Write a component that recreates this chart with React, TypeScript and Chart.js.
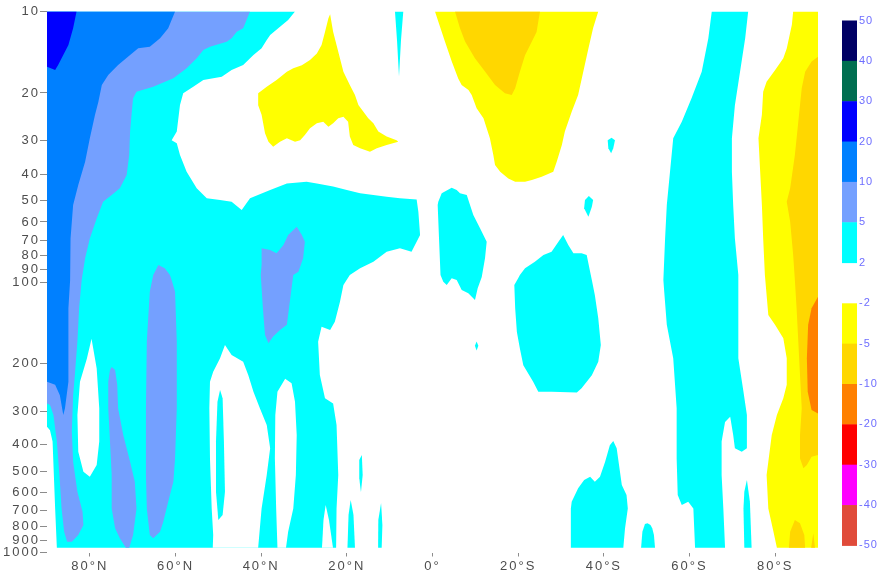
import React, { useEffect, useRef } from 'react';
import { Chart, registerables } from 'chart.js';

Chart.register(...registerables);

// [latitude (north positive), pressure hPa]
type Pt = [number, number];

// contour intervals of the field
const posLevels = [2, 5, 10, 20, 30, 40, 50];
const posColors = ['#00ffff', '#74a0ff', '#0080ff', '#0000ff', '#006e50', '#000064'];
const negLevels = [-2, -5, -10, -20, -30, -40, -50];
const negColors = ['#ffff00', '#ffd700', '#ff8000', '#ff0000', '#ff00ff', '#e04b3a'];

const yTicks = [10, 20, 30, 40, 50, 60, 70, 80, 90, 100, 200, 300, 400, 500, 600, 700, 800, 900, 1000];
const xTicks = [80, 60, 40, 20, 0, -20, -40, -60, -80];
const xTickLabels = ['80°N', '60°N', '40°N', '20°N', '0°', '20°S', '40°S', '60°S', '80°S'];

// ---- contour regions (boundaries) ----
const cyanNH: Pt[] = [[90,10],[32.1,10],[33.7,10.75],[35.6,11.38],[37.9,12.21],[38.7,12.74],[39.9,13.68],[41.8,14.48],[44.2,15.77],[46.9,16.45],[49.2,17.42],[53.5,17.92],[55.85,18.97],[58.2,20.06],[58.95,22.17],[59.7,27.8],[60.9,29.9],[59.7,30.7],[58.95,33.9],[57.4,39.1],[55.05,45.0],[52.7,49.05],[49.6,49.8],[46.9,50.5],[44.55,54.2],[42.6,49.05],[37.9,45.7],[34.0,43.2],[29.4,42.6],[27.0,43.2],[23.2,44.4],[20.0,45.7],[16.9,47.0],[13.8,47.7],[10.7,48.4],[7.6,49.05],[3.7,49.5],[3.3,55.0],[2.9,67.0],[3.7,71.0],[4.9,77.3],[7.6,75.1],[10.7,77.3],[13.8,84.1],[16.9,89.0],[19.3,94.2],[20.8,102.6],[21.6,118.3],[22.8,140.3],[23.9,150.5],[25.9,146.3],[26.7,166.3],[26.3,220.8],[25.1,269],[23.2,281],[22.4,338],[22.0,517],[22.4,687],[22.5,960],[87.7,960],[88.1,687],[88.4,517],[88.7,389],[89.3,353],[90,343]];
const whiteNotch: Pt[] = [[25.8,960],[25.45,759],[24.94,668],[24.17,759],[23.23,960]];
const white80N: Pt[] = [[79.6,162],[78.4,209],[77.8,293],[77.8,389],[78.4,475],[80.0,525],[81.5,503],[82.7,424],[82.9,310],[82.3,234],[80.7,192]];
const white50N: Pt[] = [[48.45,171],[49.6,191.5],[51.2,214.6],[51.95,233.7],[52.1,293],[51.95,449],[51.55,687],[51.2,862],[51.3,960],[40.7,960],[39.9,687],[38.7,517],[37.9,412],[38.7,338],[40.3,293],[41.8,254.5],[43.0,221],[44.2,197],[46.9,186]];
const white35N: Pt[] = [[34.4,228],[32.9,237],[32.1,277],[31.7,368],[31.9,517],[32.5,687],[33.7,838],[34.2,960],[36.2,960],[36.5,687],[36.8,449],[36.7,310],[36.2,254.5]];
const cyan50N: Pt[] = [[49.6,251],[49.0,269],[48.7,389],[48.45,596],[49.0,727],[50.0,759],[50.55,596],[50.55,389],[50.2,277]];
const cyanTop8N: Pt[] = [[8.76,10],[6.82,10],[7.35,12.74],[7.82,17.4],[8.29,12.74]];
const cyan19N: Pt[] = [[19.85,960],[19.6,727],[19.1,640],[18.45,727],[18.1,960]];
const cyan17N: Pt[] = [[17.1,455],[16.5,436],[16.3,517],[16.7,598],[17.1,531]];
const cyan12N: Pt[] = [[12.7,960],[12.65,759],[12.0,656],[11.7,791],[11.86,960]];
const cyanEq: Pt[] = [[-1.35,50.5],[-2.15,47.0],[-4.48,44.8],[-5.65,45.7],[-6.42,47.0],[-8.0,47.7],[-8.76,51.9],[-9.53,56.5],[-11.1,63.3],[-12.65,71.0],[-12.26,81.7],[-11.5,95.8],[-10.55,105.5],[-9.92,116.6],[-8.36,110.1],[-6.82,107.1],[-5.65,98.3],[-4.48,96.9],[-3.32,102.6],[-2.52,99.75],[-1.87,94.2],[-1.52,69.0],[-1.21,51.9]];
const cyanDot: Pt[] = [[-10.3,166],[-10.7,172],[-10.3,179],[-9.9,172]];
const cyan30S: Pt[] = [[-21.6,89.0],[-23.9,84.1],[-25.9,79.5],[-27.8,77.3],[-29.4,71.0],[-30.5,67.05],[-31.7,73.0],[-32.9,78.3],[-34.8,78.3],[-36.0,79.5],[-36.8,91.6],[-37.2,98.3],[-37.9,111.7],[-38.7,136.2],[-39.3,171],[-38.7,197],[-37.2,221],[-34.8,247],[-33.7,256],[-27.8,254.5],[-24.7,254.5],[-23.5,234],[-21.2,203],[-20.4,176],[-19.7,153],[-19.3,125],[-19.1,102.6],[-20.0,96.9],[-20.4,94.2]];
const cyan42S: Pt[] = [[-40.9,29.9],[-41.8,29.3],[-42.6,29.9],[-42.2,32.0],[-41.7,33.4],[-41.05,32.0]];
const cyan36S: Pt[] = [[-35.6,49.8],[-36.5,48.1],[-37.5,49.8],[-37.2,52.7],[-36.4,57.4],[-35.4,53.4]];
const cyan38Slow: Pt[] = [[-42.2,387],[-43.0,412],[-44.2,563],[-45.3,613],[-45.6,687],[-44.95,814],[-44.55,960],[-32.3,960],[-32.3,687],[-32.5,649],[-34.0,579],[-35.4,540],[-36.8,525],[-37.9,547],[-39.1,525],[-40.3,462],[-41.4,401]];
const cyan50Slow: Pt[] = [[-48.7,960],[-49.0,838],[-49.6,785],[-50.2,780],[-50.9,791],[-51.3,814],[-51.7,862],[-51.95,960]];
const cyan65S: Pt[] = [[-65.2,10],[-64.4,12.56],[-62.85,16.7],[-60.5,20.9],[-58.2,25.55],[-56.2,29.4],[-55.45,39.1],[-54.7,51.9],[-54.3,69.0],[-53.9,98.3],[-54.1,108.6],[-54.7,144],[-55.45,166],[-56.2,191.5],[-57.0,293],[-57.0,449],[-57.25,613],[-58.2,668],[-59.7,649],[-60.9,687],[-61.3,960],[-68.3,960],[-67.9,687],[-67.5,517],[-67.5,389],[-68.3,329],[-69.5,315],[-70.2,368],[-70.6,412],[-72.2,424],[-73.4,412],[-73.4,310],[-72.6,254.5],[-71.4,191.5],[-71.4,125],[-71.4,94.2],[-70.6,69.0],[-70.2,51.9],[-69.9,39.1],[-69.9,29.4],[-70.6,22.2],[-71.8,16.7],[-73.0,12.56],[-73.7,10]];
const cyan74S: Pt[] = [[-73.4,540],[-74.1,649],[-74.5,960],[-72.8,960],[-72.6,687],[-72.8,596]];
const lightBlueNH: Pt[] = [[90,10],[42.6,10],[44.2,11.54],[45.7,11.88],[46.9,12.56],[48.05,12.93],[51.95,13.49],[53.5,13.88],[55.05,14.89],[57.4,16.22],[60.5,17.66],[65.2,18.97],[69.1,19.79],[69.9,20.94],[70.2,23.47],[70.6,27.8],[70.8,33.9],[71.4,40.2],[73.0,45.0],[74.9,47.7],[76.9,50.5],[78.4,58.2],[80.0,69.0],[81.1,81.7],[81.9,98.3],[82.5,125],[82.9,166],[83.5,221],[83.9,262],[84.2,358],[83.9,462],[82.9,596],[81.7,707],[81.5,791],[82.7,862],[84.2,913],[85.3,913],[86.0,838],[86.6,687],[87.1,517],[87.7,389],[88.5,310],[89.3,285],[90,281]];
const lightBlue72N: Pt[] = [[74.9,206],[74.1,211.5],[73.6,240],[73.4,293],[72.2,368],[70.6,462],[69.5,547],[69.1,687],[69.9,862],[70.8,960],[71.6,960],[73.0,886],[74.1,814],[74.9,687],[74.9,517],[75.3,389],[75.7,293],[75.7,234],[75.3,211.5]];
const lightBlue63N: Pt[] = [[64.0,86.5],[62.5,89.0],[61.3,94.2],[60.9,98.3],[60.1,108.6],[59.7,166],[59.7,293],[60.1,449],[60.5,547],[61.7,649],[62.85,769],[63.6,838],[65.2,886],[66.0,862],[66.7,687],[66.9,517],[66.9,293],[66.7,166],[66.0,108.6],[65.2,94.2],[64.8,91.6]];
const lightBlue35N: Pt[] = [[31.7,62.5],[30.5,67.0],[29.8,71.0],[30.2,81.7],[31.3,91.6],[32.5,94.2],[33.3,118],[34.0,144],[35.6,150.5],[37.2,159],[38.3,168.5],[39.1,157],[39.6,125],[40.1,94.2],[39.9,86.5],[39.9,75.1],[37.9,76.2],[36.4,78.3],[34.8,73.0],[33.7,67.0]];
const blueNH: Pt[] = [[90,10],[60.1,10],[61.7,11.54],[63.6,12.56],[66.0,13.49],[68.7,13.68],[70.6,14.48],[73.4,15.77],[75.7,17.16],[77.2,18.69],[78.0,21.55],[78.8,24.13],[80.0,29.43],[81.1,35.9],[82.7,43.8],[83.9,51.9],[84.5,69.0],[84.6,98.3],[85.0,125],[85.0,234],[85.8,293],[86.2,310],[87.0,262],[88.1,240],[90,234]];
const deepBlueNH: Pt[] = [[90,10],[83.1,10],[83.9,11.54],[85.0,13.3],[86.2,14.48],[87.4,15.77],[88.1,16.45],[90,16.0]];
const yellow25N: Pt[] = [[23.9,10.24],[23.2,11.88],[22.0,14.08],[20.8,16.69],[19.3,18.69],[18.1,20.35],[17.3,22.17],[15.0,24.8],[13.8,25.9],[12.65,27.8],[10.7,29.0],[8.4,29.9],[8.0,30.3],[10.7,31.15],[13.0,32.0],[14.6,33.0],[16.9,32.0],[18.5,31.15],[19.3,29.0],[19.7,25.55],[20.8,24.5],[22.0,24.8],[23.2,25.9],[24.3,26.7],[25.5,25.55],[27.0,25.9],[28.6,27.0],[29.8,28.6],[30.9,29.9],[32.1,30.3],[34.0,29.4],[35.6,30.3],[37.2,31.6],[38.3,30.3],[39.1,28.2],[39.9,24.1],[40.7,22.2],[40.7,20.06],[38.7,18.97],[36.4,17.9],[34.0,16.7],[32.5,16.2],[30.5,15.8],[28.6,15.1],[27.0,14.3],[25.9,13.3],[25.1,11.9],[24.3,10.6]];
const yellow20S: Pt[] = [[-0.58,10],[-1.35,10.9],[-2.9,12.9],[-4.5,15.3],[-6.0,17.7],[-6.8,18.7],[-8.4,19.5],[-9.15,20.35],[-10.3,22.8],[-11.9,24.8],[-12.65,27.0],[-13.4,29.4],[-14.2,33.9],[-14.6,36.9],[-15.8,39.1],[-17.7,41.4],[-19.3,42.6],[-21.6,42.6],[-23.2,42.0],[-25.5,40.8],[-28.2,39.1],[-29.0,35.9],[-30.2,31.15],[-30.9,27.8],[-32.5,23.5],[-34.0,20.35],[-35.2,16.7],[-36.4,13.7],[-37.5,11.5],[-38.7,10]];
const gold15S: Pt[] = [[-5.25,10],[-6.4,11.5],[-7.6,12.9],[-9.9,14.9],[-12.3,16.7],[-14.6,18.7],[-16.9,20.06],[-18.5,20.35],[-19.3,19.2],[-20.4,16.7],[-21.6,14.5],[-23.2,12.9],[-24.3,11.9],[-24.7,10.9],[-25.1,10]];
const yellowSP: Pt[] = [[-84.2,10],[-83.9,11.2],[-82.7,13.7],[-81.9,14.9],[-80.0,16.45],[-78.0,18.2],[-77.2,19.8],[-76.9,24.1],[-76.1,29.4],[-76.5,39.1],[-76.9,51.9],[-77.2,69.0],[-77.6,94.2],[-78.4,132.4],[-80.0,144.2],[-81.9,161.5],[-82.7,191.5],[-82.7,240],[-81.9,269],[-80.4,310],[-79.2,368],[-78.4,462],[-78.0,517],[-78.4,687],[-79.6,838],[-80.4,960],[-90,960],[-90,10]];
const goldSP: Pt[] = [[-90,14.7],[-88.5,15.3],[-87.0,16.7],[-86.2,19.2],[-85.4,25.55],[-84.6,33.9],[-83.5,45.0],[-82.7,50.5],[-83.5,59.85],[-84.2,79.5],[-84.6,98.3],[-85.0,125],[-85.4,166],[-85.8,221],[-86.2,293],[-85.8,368],[-85.8,449],[-86.6,488.5],[-87.4,475],[-88.5,442.6],[-90,436]];
const goldSPlow: Pt[] = [[-84.6,759],[-85.8,780],[-86.8,862],[-87.0,960],[-83.2,960],[-83.5,838]];
const goldSPthin: Pt[] = [[-88.9,849],[-89.3,960],[-88.4,960]];
const orangeSP: Pt[] = [[-90,113.3],[-88.5,125],[-87.7,144],[-87.4,191.5],[-87.6,254.5],[-88.5,297],[-90,306]];

// region -> representative value of its contour interval (drawn in this order)
const regions: [Pt[], number][] = [
  [cyanNH, 3.5], [whiteNotch, 0], [white80N, 0], [white50N, 0], [white35N, 0],
  [cyan50N, 3.5], [cyanTop8N, 3.5], [cyan19N, 3.5], [cyan17N, 3.5], [cyan12N, 3.5],
  [cyanEq, 3.5], [cyanDot, 3.5], [cyan30S, 3.5], [cyan42S, 3.5], [cyan36S, 3.5],
  [cyan38Slow, 3.5], [cyan50Slow, 3.5], [cyan65S, 3.5], [cyan74S, 3.5],
  [lightBlueNH, 7], [lightBlue72N, 7], [lightBlue63N, 7], [lightBlue35N, 7],
  [blueNH, 15], [deepBlueNH, 25],
  [yellow25N, -3.5], [yellow20S, -3.5], [yellowSP, -3.5],
  [gold15S, -7], [goldSP, -7], [goldSPlow, -7], [goldSPthin, -7],
  [orangeSP, -15],
];

function colorFor(v: number): string {
  if (v >= posLevels[0]) {
    for (let i = 0; i < posColors.length; i++) if (v < posLevels[i + 1]) return posColors[i];
    return posColors[posColors.length - 1];
  }
  if (v <= negLevels[0]) {
    for (let i = 0; i < negColors.length; i++) if (v > negLevels[i + 1]) return negColors[i];
    return negColors[negColors.length - 1];
  }
  return '#ffffff';
}

const FONT = "'Liberation Sans', Arial, sans-serif";

const contourPlugin = {
  id: 'contourFill',
  beforeDraw(chart: any) {
    (chart.ctx as any).letterSpacing = '2px';
  },
  beforeDatasetsDraw(chart: any) {
    const { ctx, chartArea: a } = chart;
    ctx.save();
    ctx.fillStyle = '#ffffff';
    ctx.fillRect(a.left, a.top, a.right - a.left, a.bottom - a.top);
    ctx.beginPath();
    ctx.rect(a.left, a.top, a.right - a.left, a.bottom - a.top);
    ctx.clip();
    chart.data.datasets.forEach((ds: any, i: number) => {
      const pts = chart.getDatasetMeta(i).data;
      if (!pts.length) return;
      ctx.beginPath();
      pts.forEach((p: any, j: number) => (j ? ctx.lineTo(p.x, p.y) : ctx.moveTo(p.x, p.y)));
      ctx.closePath();
      ctx.fillStyle = ds.backgroundColor;
      ctx.fill();
    });
    ctx.restore();
    return false;
  },
  afterDatasetsDraw(chart: any) {
    const { ctx, chartArea: a } = chart;
    ctx.save();
    ctx.strokeStyle = '#8c8c8c';
    ctx.lineWidth = 1;
    ctx.strokeRect(a.left - 0.5, a.top - 0.5, a.right - a.left + 1, a.bottom - a.top + 1);
    ctx.restore();
    (ctx as any).letterSpacing = '1px';
  },
  afterDraw(chart: any) {
    const ctx = chart.ctx;
    const x0 = 842, w = 15, segH = 40.35, posTop = 20.5, negTop = 303.3;
    ctx.save();
    (ctx as any).letterSpacing = '1px';
    ctx.font = `11px ${FONT}`;
    ctx.textAlign = 'left';
    ctx.textBaseline = 'middle';
    const n = posColors.length;
    for (let i = 0; i < n; i++) {
      ctx.fillStyle = posColors[n - 1 - i];
      ctx.fillRect(x0, posTop + i * segH, w, segH + 0.5);
    }
    for (let i = 0; i < negColors.length; i++) {
      ctx.fillStyle = negColors[i];
      ctx.fillRect(x0, negTop + i * segH, w, segH + 0.5);
    }
    ctx.fillStyle = '#6e6eff';
    for (let i = 0; i <= n; i++) {
      ctx.fillText(String(posLevels[n - i]), x0 + w + 2, posTop + i * segH);
    }
    for (let i = 0; i < negLevels.length; i++) {
      ctx.fillText(String(negLevels[i]), x0 + w + 2, negTop + i * segH);
    }
    ctx.restore();
    (ctx as any).letterSpacing = '0px';
  },
};

export default function App() {
  const ref = useRef<HTMLCanvasElement | null>(null);
  useEffect(() => {
    if (!ref.current) return;
    const chart = new Chart(ref.current, {
      type: 'scatter',
      data: {
        datasets: regions.map(([poly, v], i) => ({
          label: 'region' + i,
          data: poly.map(([x, y]) => ({ x, y })),
          showLine: false,
          pointRadius: 0,
          pointHoverRadius: 0,
          borderWidth: 0,
          backgroundColor: colorFor(v),
        })),
      },
      options: {
        animation: false,
        responsive: false,
        devicePixelRatio: 1,
        events: [],
        layout: { padding: { top: 11.5, right: 63, left: 0, bottom: 0 } },
        plugins: { legend: { display: false }, tooltip: { enabled: false }, title: { display: false } },
        scales: {
          x: {
            type: 'linear',
            min: -90,
            max: 90,
            reverse: true,
            afterBuildTicks: (s: any) => { s.ticks = xTicks.map((v) => ({ value: v })); },
            afterFit: (s: any) => { s.height = 23.5; },
            grid: { drawOnChartArea: false, drawTicks: true, tickLength: 4, color: '#8c8c8c' },
            border: { display: false },
            ticks: {
              autoSkip: false,
              maxRotation: 0,
              padding: 2,
              color: '#4d4d4d',
              font: { family: FONT, size: 13 },
              z: 1,
              callback: (v: any) => xTickLabels[xTicks.indexOf(Number(v))] ?? '',
            },
          },
          y: {
            type: 'logarithmic',
            min: 10,
            max: 1000,
            reverse: true,
            afterBuildTicks: (s: any) => { s.ticks = yTicks.map((v) => ({ value: v })); },
            afterFit: (s: any) => { s.width = 47; },
            grid: { drawOnChartArea: false, drawTicks: true, tickLength: 7, color: '#8c8c8c' },
            border: { display: false },
            ticks: {
              autoSkip: false,
              padding: 0,
              color: '#4d4d4d',
              font: { family: FONT, size: 13 },
              callback: (v: any) => String(v),
            },
          },
        },
      },
      plugins: [contourPlugin as any],
    });
    return () => chart.destroy();
  }, []);
  return (
    <div style={{ position: 'absolute', left: 0, top: 0, width: 881, height: 576, background: '#ffffff' }}>
      <canvas ref={ref} width={881} height={576} style={{ display: 'block' }} />
    </div>
  );
}
